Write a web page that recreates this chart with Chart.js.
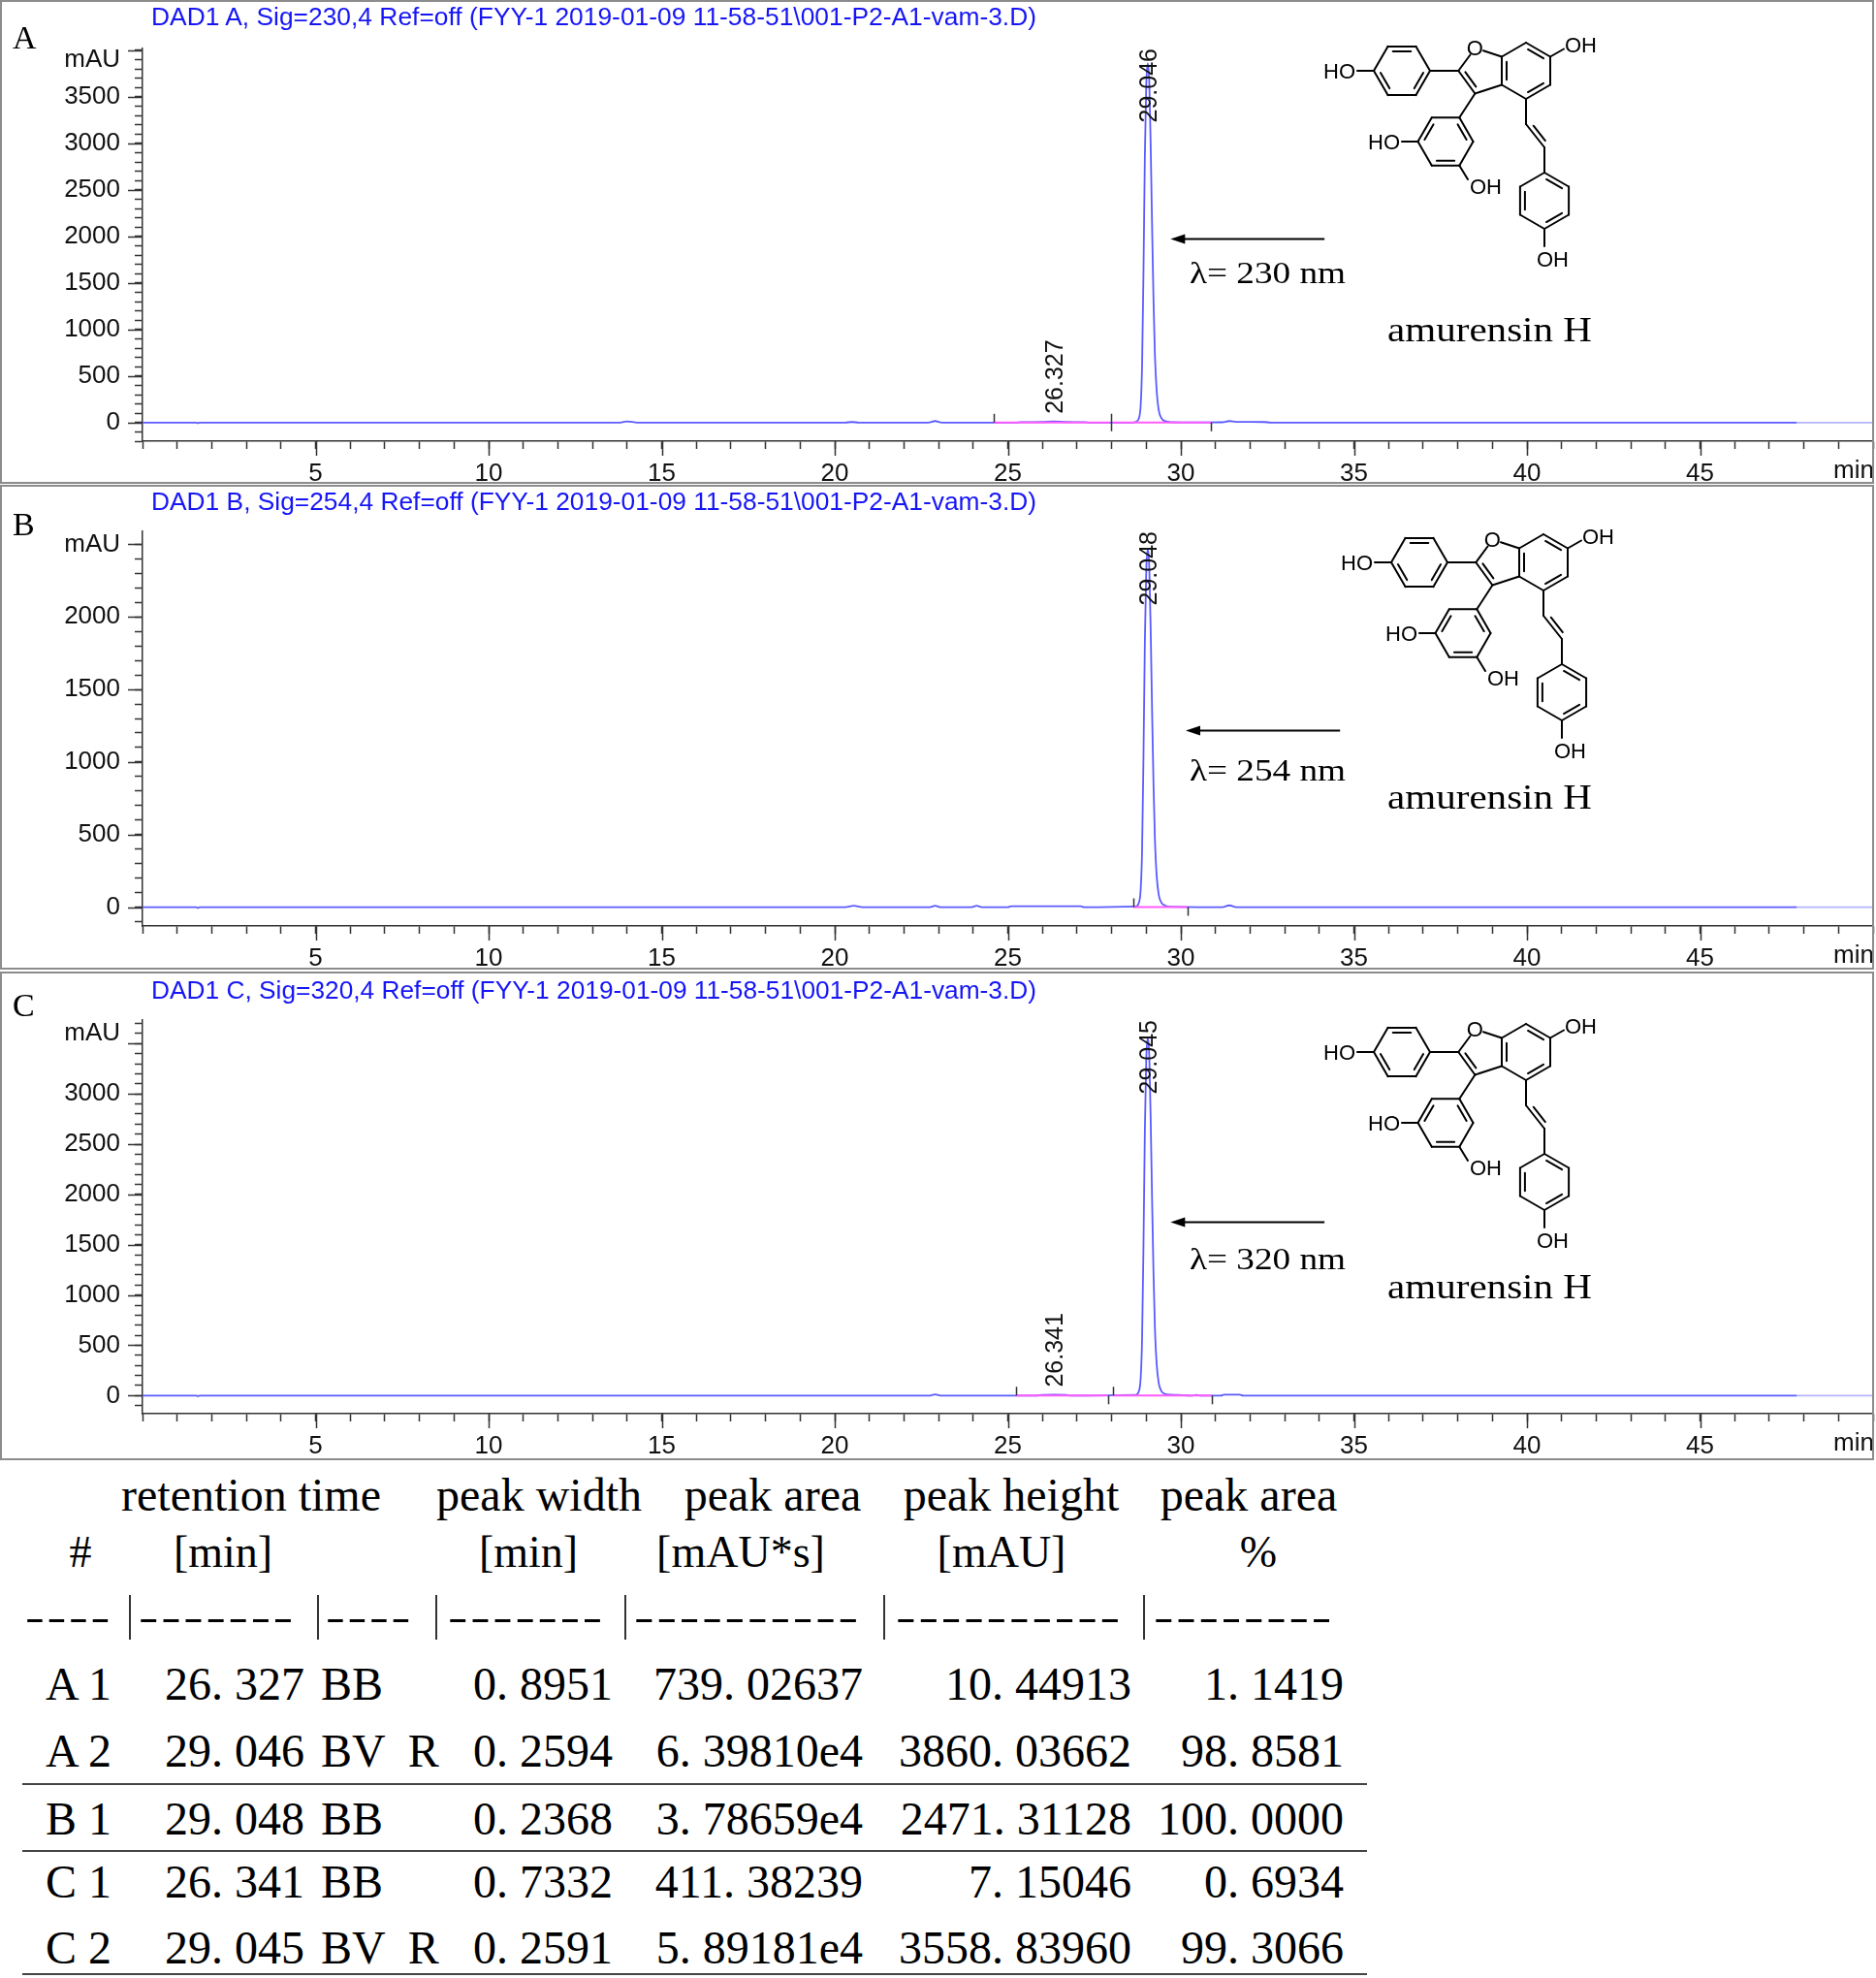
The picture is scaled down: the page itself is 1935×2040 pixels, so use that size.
<!DOCTYPE html>
<html>
<head>
<meta charset="utf-8">
<script src="https://cdn.jsdelivr.net/npm/chart.js@4.4.1/dist/chart.umd.min.js"></script>
<style>
  html, body { margin: 0; padding: 0; background: #fff; }
  body { width: 1935px; height: 2040px; position: relative; overflow: hidden; }
  canvas.chrom { position: absolute; left: 0; }
  .box { position: absolute; left: 0; width: 1933px; border: 2px solid #8c8c8c; box-sizing: border-box; pointer-events: none; }
  .t { position: absolute; white-space: pre; line-height: 1; }
  .rule { position: absolute; background: #444; }
  svg { position: absolute; left: 0; top: 0; }
</style>
</head>
<body>
<canvas id="chartA" class="chrom" width="1935" height="499" style="top:0px"></canvas>
<canvas id="chartB" class="chrom" width="1935" height="500" style="top:500px"></canvas>
<canvas id="chartC" class="chrom" width="1935" height="503" style="top:1003px"></canvas>
<div class="box" style="top:0px;height:499px"></div>
<div class="box" style="top:500px;height:500px"></div>
<div class="box" style="top:1002px;height:504px"></div>

<script>
// ---- chromatogram A (230 nm) ----
const timesA = [0, 1.55, 1.6, 1.65, 13.8, 14.0, 14.3, 20.3, 20.5, 20.7, 22.7, 22.9, 23.1,
  25.2, 25.4, 26.0, 26.327, 26.7, 27.2, 27.4,
  28.6, 28.7, 28.78, 28.84, 28.88, 28.92, 28.96, 29.0, 29.046, 29.09, 29.13, 29.17, 29.21,
  29.25, 29.3, 29.36, 29.44, 29.55, 29.7,
  30.5, 31.2, 31.4, 31.6, 32.4, 32.6, 47.8, 50];
const signalA = [0, 0, -6, 0, 0, 12, 0, 0, 6, 0, 0, 16, 0,
  0, 4, 6, 11, 6, 4, 0,
  0, 8, 39, 190, 620, 1620, 2860, 3630, 3860, 3630, 2930, 2080, 1310,
  730, 350, 135, 46, 15, 5,
  2, 3, 16, 8, 6, 0, 0, 0];
const peakTimesA = [26.327, 29.046];
const peakHeightsA = [10, 3860];
const intStartA = [24.6, 28.0];
const intEndA = [27.95, 30.87];
const markTimesA = [24.6, 27.97, 30.87];
const markDirA = [1, 0, -1];

// ---- chromatogram B (254 nm) ----
const timesB = [0, 1.55, 1.6, 1.65, 20.3, 20.55, 20.8, 22.75, 22.9, 23.05, 23.95, 24.1, 24.25,
  25.0, 25.1, 27.1, 27.2,
  28.7, 28.78, 28.84, 28.88, 28.92, 28.96, 29.0, 29.048, 29.09, 29.13, 29.17, 29.21,
  29.25, 29.3, 29.36, 29.44, 29.55, 29.7,
  31.2, 31.4, 31.6, 47.8, 50];
const signalB = [0, 0, -5, 0, 0, 10, 0, 0, 10, 0, 0, 9, 0,
  0, 6, 6, 0,
  5, 25, 124, 395, 1040, 1830, 2320, 2471, 2320, 1880, 1330, 840,
  470, 220, 86, 30, 10, 3,
  0, 12, 0, 0, 0];
const peakTimesB = [29.048];
const peakHeightsB = [2471];
const intStartB = [28.63];
const intEndB = [30.2];
const markTimesB = [28.63, 30.2];
const markDirB = [1, -1];

// ---- chromatogram C (320 nm) ----
const timesC = [0, 1.55, 1.6, 1.65, 22.75, 22.9, 23.05,
  25.8, 26.0, 26.341, 26.7, 26.8,
  28.7, 28.78, 28.84, 28.88, 28.92, 28.96, 29.0, 29.045, 29.09, 29.13, 29.17, 29.21,
  29.25, 29.3, 29.36, 29.44, 29.55, 29.7,
  29.9, 30.3, 30.45, 30.6, 31.15, 31.25, 31.7, 31.8, 47.8, 50];
const signalC = [0, 0, -5, 0, 0, 12, 0,
  0, 6, 8, 6, 0,
  7, 36, 178, 570, 1495, 2635, 3345, 3559, 3345, 2705, 1920, 1210,
  676, 320, 125, 43, 14, 8,
  6, 0, 6, 0, 0, 10, 10, 0, 0, 0];
const peakTimesC = [26.341, 29.045];
const peakHeightsC = [7, 3559];
const intStartC = [25.24, 28.03];
const intEndC = [27.9, 30.9];
const markTimesC = [25.24, 27.9, 28.03, 30.9];
const markDirC = [1, -1, 1, -1];

// ---- axis ranges ----
const yRangeA = [-200, 4020];
const yRangeB = [-130, 2590];
const yRangeC = [-180, 3735];
const unitTickA = 3900, unitTickB = 2500, unitTickC = 3600;  // where "mAU" sits
const xRange = [0, 50];

const SANS = '"Liberation Sans", Arial, sans-serif';
const SERIF = '"Liberation Serif", "Times New Roman", serif';
const TRACE = '#5b5bff';
const INTEG = '#ff5cff';

// extra drawing: long major ticks, "min", event marks, peak labels, arrow
const extras = {
  id: 'extras',
  afterDatasetsDraw(chart, args, o) {
    const { ctx, chartArea: ca, scales: { x, y } } = chart;
    ctx.save();
    ctx.strokeStyle = '#333';
    ctx.lineWidth = 1.5;
    ctx.beginPath();
    for (let v = Math.ceil(y.min / 500) * 500; v <= y.max; v += 500) {
      const py = Math.round(y.getPixelForValue(v)) + 0.5;
      ctx.moveTo(ca.left - 15, py); ctx.lineTo(ca.left, py);
    }
    for (let v = 5; v < 50; v += 5) {
      const px = Math.round(x.getPixelForValue(v)) + 0.5;
      ctx.moveTo(px, ca.bottom); ctx.lineTo(px, ca.bottom + 15);
    }
    ctx.stroke();

    ctx.fillStyle = '#111';
    ctx.font = '26px ' + SANS;
    ctx.textAlign = 'right';
    ctx.textBaseline = 'middle';
    ctx.fillText('min', ca.right + 1, ca.bottom + 31);

    // integration event marks
    ctx.strokeStyle = '#333';
    ctx.beginPath();
    const y0 = y.getPixelForValue(0);
    o.marks.forEach((t, i) => {
      const px = Math.round(x.getPixelForValue(t)) + 0.5;
      const d = o.dirs[i];
      ctx.moveTo(px, d < 0 ? y0 : y0 - 9);
      ctx.lineTo(px, d > 0 ? y0 : y0 + 9);
    });
    ctx.stroke();

    // retention time labels, rotated
    ctx.font = '25px ' + SANS;
    ctx.textAlign = 'left';
    o.peaks.forEach((t, i) => {
      const txt = t.toFixed(3);
      const w = ctx.measureText(txt).width;
      const px = x.getPixelForValue(t) + 1;
      let py = y.getPixelForValue(o.heights[i]) - 8;
      if (py - w < ca.top) py = ca.top + w;
      ctx.save();
      ctx.translate(px, py);
      ctx.rotate(-Math.PI / 2);
      ctx.fillText(txt, 0, 1);
      ctx.restore();
    });

    // wavelength arrow
    const ax1 = x.getPixelForValue(o.arrow[0]);
    const ax2 = x.getPixelForValue(o.arrow[1]);
    const ay = Math.round(y.getPixelForValue(o.arrow[2])) + 0.5;
    ctx.strokeStyle = '#000';
    ctx.lineWidth = 2;
    ctx.beginPath();
    ctx.moveTo(ax1, ay); ctx.lineTo(ax2 + 10, ay);
    ctx.stroke();
    ctx.fillStyle = '#000';
    ctx.beginPath();
    ctx.moveTo(ax2, ay); ctx.lineTo(ax2 + 15, ay - 5); ctx.lineTo(ax2 + 15, ay + 5);
    ctx.closePath();
    ctx.fill();
    ctx.restore();
  }
};

function integData(starts, ends) {
  const d = [];
  starts.forEach((s, i) => {
    d.push({ x: s, y: 0 }, { x: ends[i], y: 0 }, { x: ends[i], y: null });
  });
  return d;
}

function makeChart(id, times, signal, yRange, unitTick, padTop, xHeight, extra) {
  const axisFont = { family: SANS, size: 26 };
  const grid = { drawOnChartArea: false, tickLength: 8, tickColor: '#333', tickWidth: 1.5 };
  const border = { color: '#333', width: 1.5 };
  return new Chart(document.getElementById(id), {
    type: 'line',
    data: {
      datasets: [
        {
          data: integData(extra.intStart, extra.intEnd),
          borderColor: INTEG,
          borderWidth: 2,
          pointRadius: 0,
          spanGaps: false
        },
        {
          data: times.map((t, i) => ({ x: t, y: signal[i] })),
          borderColor: TRACE,
          borderWidth: 1.8,
          pointRadius: 0,
          cubicInterpolationMode: 'monotone',
          segment: { borderColor: (c) => (c.p0.parsed.x >= 47.8 ? '#b4b4ff' : TRACE) }
        }
      ]
    },
    options: {
      responsive: false,
      animation: false,
      devicePixelRatio: 1,
      layout: { padding: { top: padTop, right: 3, left: 0, bottom: 0 } },
      plugins: {
        legend: { display: false },
        tooltip: { enabled: false },
        extras: extra
      },
      scales: {
        x: {
          type: 'linear',
          min: xRange[0],
          max: xRange[1],
          afterFit: (s) => { s.height = xHeight; s.paddingLeft = 0; s.paddingRight = 0; },
          ticks: {
            stepSize: 1, maxTicksLimit: 1000, autoSkip: false, maxRotation: 0, includeBounds: false,
            padding: 10, color: '#111', font: axisFont,
            callback: (v) => (v % 5 === 0 && v > 0 && v < 50 ? String(v) : '')
          },
          grid: grid,
          border: border
        },
        y: {
          min: yRange[0],
          max: yRange[1],
          afterFit: (s) => { s.width = 147; },
          ticks: {
            stepSize: 100, maxTicksLimit: 1000, autoSkip: false, includeBounds: false,
            padding: 15, color: '#111', font: axisFont,
            callback: (v) => (v === unitTick ? 'mAU'
              : (v >= 0 && v % 500 === 0 && v <= unitTick - 200 ? String(v) : ''))
          },
          grid: grid,
          border: border
        }
      }
    },
    plugins: [extras]
  });
}

makeChart('chartA', timesA, signalA, yRangeA, unitTickA, 50, 44, {
  intStart: intStartA, intEnd: intEndA, marks: markTimesA, dirs: markDirA,
  peaks: peakTimesA, heights: peakHeightsA, arrow: [34.15, 29.7, 1980]
});
makeChart('chartB', timesB, signalB, yRangeB, unitTickB, 48, 45, {
  intStart: intStartB, intEnd: intEndB, marks: markTimesB, dirs: markDirB,
  peaks: peakTimesB, heights: peakHeightsB, arrow: [34.6, 30.14, 1220]
});
makeChart('chartC', timesC, signalC, yRangeC, unitTickC, 49, 48, {
  intStart: intStartC, intEnd: intEndC, marks: markTimesC, dirs: markDirC,
  peaks: peakTimesC, heights: peakHeightsC, arrow: [34.15, 29.7, 1732]
});

// ---- html text helper ----
function put(txt, x, cy, size, fam, align, color, fitW, spacing) {
  const d = document.createElement('div');
  d.className = 't';
  d.textContent = txt;
  d.style.fontSize = size + 'px';
  d.style.fontFamily = fam;
  d.style.color = color || '#000';
  if (spacing) d.style.letterSpacing = spacing + 'px';
  document.body.appendChild(d);
  let w = d.getBoundingClientRect().width;
  if (fitW) {
    d.style.transformOrigin = '0 0';
    d.style.transform = 'scaleX(' + (fitW / w) + ')';
    w = fitW;
  }
  const left = align === 'right' ? x - w : (align === 'center' ? x - w / 2 : x);
  d.style.left = left + 'px';
  d.style.top = (cy - size * 0.5) + 'px';
  return d;
}

// panel captions
const panelLetters = ['A', 'B', 'C'];
const signalTitles = [
  'DAD1 A, Sig=230,4 Ref=off (FYY-1 2019-01-09 11-58-51\\001-P2-A1-vam-3.D)',
  'DAD1 B, Sig=254,4 Ref=off (FYY-1 2019-01-09 11-58-51\\001-P2-A1-vam-3.D)',
  'DAD1 C, Sig=320,4 Ref=off (FYY-1 2019-01-09 11-58-51\\001-P2-A1-vam-3.D)'
];
const wavelengths = ['λ= 230 nm', 'λ= 254 nm', 'λ= 320 nm'];
const compound = 'amurensin H';
const letterY = [39, 541, 1037];
const titleY = [17, 517, 1021];
const lambdaY = [281, 794, 1298];
const nameY = [340, 822, 1327];
for (let i = 0; i < 3; i++) {
  put(panelLetters[i], 13, letterY[i], 34, SERIF, 'left');
  put(signalTitles[i], 156, titleY[i], 25, SANS, 'left', '#1616f5', 913);
  put(wavelengths[i], 1227, lambdaY[i], 32, SERIF, 'left', '#000', 161);
  put(compound, 1431, nameY[i], 36, SERIF, 'left', '#000', 211);
}

// ---- structure of amurensin H (drawn once per panel) ----
const rings = [
  { c: [1446, 73], v: [[1475, 73], [1460.5, 98.1], [1431.5, 98.1], [1417, 73], [1431.5, 47.9], [1460.5, 47.9]], inner: [0, 2, 4] },
  { c: [1491, 146], v: [[1519.5, 146], [1505.3, 170.7], [1476.8, 170.7], [1462.5, 146], [1476.8, 121.3], [1505.3, 121.3]], inner: [1, 3, 5] },
  { c: [1574, 73], v: [[1574, 44], [1599, 58.5], [1599, 87.5], [1574, 102], [1549, 87.5], [1549, 58.5]], inner: [0, 2, 4] },
  { c: [1593, 207], v: [[1593, 178], [1618.1, 192.5], [1618.1, 221.5], [1593, 236], [1567.9, 221.5], [1567.9, 192.5]], inner: [0, 2, 4] }
];
const bonds = [
  [1400, 73, 1417, 73], [1475, 73, 1504.3, 73],
  [1504.3, 73, 1516.5, 56.5], [1530, 52.3, 1549, 58.5],
  [1504.3, 73, 1521.4, 96.5], [1521.4, 96.5, 1549, 87.5],
  [1599, 58.5, 1613, 50.5], [1521.4, 96.5, 1505.3, 121.3],
  [1462.5, 146, 1446, 146], [1505.3, 170.7, 1514, 185],
  [1574, 102, 1574, 128], [1574, 128, 1593, 152], [1593, 152, 1593, 178],
  [1593, 236, 1593, 254]
];
const doubles = [
  [1504.3, 73, 1521.4, 96.5, 1529, 73],
  [1574, 128, 1593, 152, 1600, 130]
];
const atomLabels = [
  ['HO', 1398, 73, 'end'], ['O', 1521.4, 49.5, 'middle'], ['OH', 1614, 46, 'start'],
  ['HO', 1444, 146, 'end'], ['OH', 1516, 192, 'start'], ['OH', 1585, 267, 'start']
];
const molOffsets = [[0, 0], [18, 507], [0, 1012]];

function innerLine(p, q, c) {
  const mx = (p[0] + q[0]) / 2, my = (p[1] + q[1]) / 2;
  let nx = c[0] - mx, ny = c[1] - my;
  const nl = Math.hypot(nx, ny);
  nx = nx / nl * 5; ny = ny / nl * 5;
  const s = 0.18;
  return [p[0] + (q[0] - p[0]) * s + nx, p[1] + (q[1] - p[1]) * s + ny,
          q[0] + (p[0] - q[0]) * s + nx, q[1] + (p[1] - q[1]) * s + ny];
}

const NS = 'http://www.w3.org/2000/svg';
const svg = document.createElementNS(NS, 'svg');
svg.setAttribute('width', 1935);
svg.setAttribute('height', 1510);
document.body.appendChild(svg);
function seg(g, l) {
  const e = document.createElementNS(NS, 'line');
  e.setAttribute('x1', l[0]); e.setAttribute('y1', l[1]);
  e.setAttribute('x2', l[2]); e.setAttribute('y2', l[3]);
  g.appendChild(e);
}
molOffsets.forEach((off) => {
  const g = document.createElementNS(NS, 'g');
  g.setAttribute('transform', 'translate(' + off[0] + ',' + off[1] + ')');
  g.setAttribute('stroke', '#000');
  g.setAttribute('stroke-width', '2');
  g.setAttribute('stroke-linecap', 'round');
  rings.forEach((r) => {
    for (let i = 0; i < 6; i++) {
      const p = r.v[i], q = r.v[(i + 1) % 6];
      seg(g, [p[0], p[1], q[0], q[1]]);
      if (r.inner.includes(i)) seg(g, innerLine(p, q, r.c));
    }
  });
  bonds.forEach((b) => seg(g, b));
  doubles.forEach((d) => seg(g, innerLine([d[0], d[1]], [d[2], d[3]], [d[4], d[5]])));
  atomLabels.forEach((a) => {
    const t = document.createElementNS(NS, 'text');
    t.setAttribute('x', a[1]); t.setAttribute('y', a[2]);
    t.setAttribute('text-anchor', a[3]);
    t.setAttribute('dominant-baseline', 'central');
    t.setAttribute('font-family', SANS);
    t.setAttribute('font-size', '22');
    t.setAttribute('stroke', 'none');
    t.setAttribute('fill', '#000');
    t.textContent = a[0];
    g.appendChild(t);
  });
  svg.appendChild(g);
});

// ---- integration report table ----
const headTop = ['retention time', 'peak width', 'peak area', 'peak height', 'peak area'];
const headUnits = ['#', '[min]', '[min]', '[mAU*s]', '[mAU]', '%'];
const rowNames = ['A 1', 'A 2', 'B 1', 'C 1', 'C 2'];
const retTime = ['26. 327', '29. 046', '29. 048', '26. 341', '29. 045'];
const peakType = ['BB', 'BV  R', 'BB', 'BB', 'BV  R'];
const peakWidth = ['0. 8951', '0. 2594', '0. 2368', '0. 7332', '0. 2591'];
const peakArea = ['739. 02637', '6. 39810e4', '3. 78659e4', '411. 38239', '5. 89181e4'];
const peakHeight = ['10. 44913', '3860. 03662', '2471. 31128', '7. 15046', '3558. 83960'];
const areaPct = ['1. 1419', '98. 8581', '100. 0000', '0. 6934', '99. 3066'];
const dashRuns = [4, 7, 4, 7, 10, 10, 8];

const headTopX = [259, 556, 797, 1043, 1288];
const headUnitX = [83, 230, 545, 764, 1033, 1298];
const dashX = [26, 143, 336, 462, 654, 924, 1190];
const barX = [133, 327, 449, 644, 911, 1179];
const rowY = [1737, 1806, 1876, 1941, 2009];
const ruleY = [1840, 1909, 2036];

headTop.forEach((h, i) => put(h, headTopX[i], 1542, 48, SERIF, 'center'));
headUnits.forEach((h, i) => put(h, headUnitX[i], 1601, 46, SERIF, 'center'));
dashRuns.forEach((n, i) => put('-'.repeat(n), dashX[i], 1668, 40, SERIF, 'left', '#000', n * 24 - 6, 1.8));
barX.forEach((x) => {
  const d = document.createElement('div');
  d.className = 'rule';
  d.style.cssText = 'left:' + x + 'px;top:1645px;width:1.5px;height:46px;background:#333';
  document.body.appendChild(d);
});
rowNames.forEach((n, i) => {
  const y = rowY[i];
  put(n, 47, y, 48, SERIF, 'left');
  put(retTime[i], 170, y, 48, SERIF, 'left');
  put(peakType[i], 331, y, 48, SERIF, 'left');
  put(peakWidth[i], 632, y, 48, SERIF, 'right');
  put(peakArea[i], 890, y, 48, SERIF, 'right');
  put(peakHeight[i], 1167, y, 48, SERIF, 'right');
  put(areaPct[i], 1386, y, 48, SERIF, 'right');
});
ruleY.forEach((y) => {
  const d = document.createElement('div');
  d.className = 'rule';
  d.style.cssText = 'left:23px;top:' + (y - 1) + 'px;width:1387px;height:2px';
  document.body.appendChild(d);
});
</script>
</body>
</html>
